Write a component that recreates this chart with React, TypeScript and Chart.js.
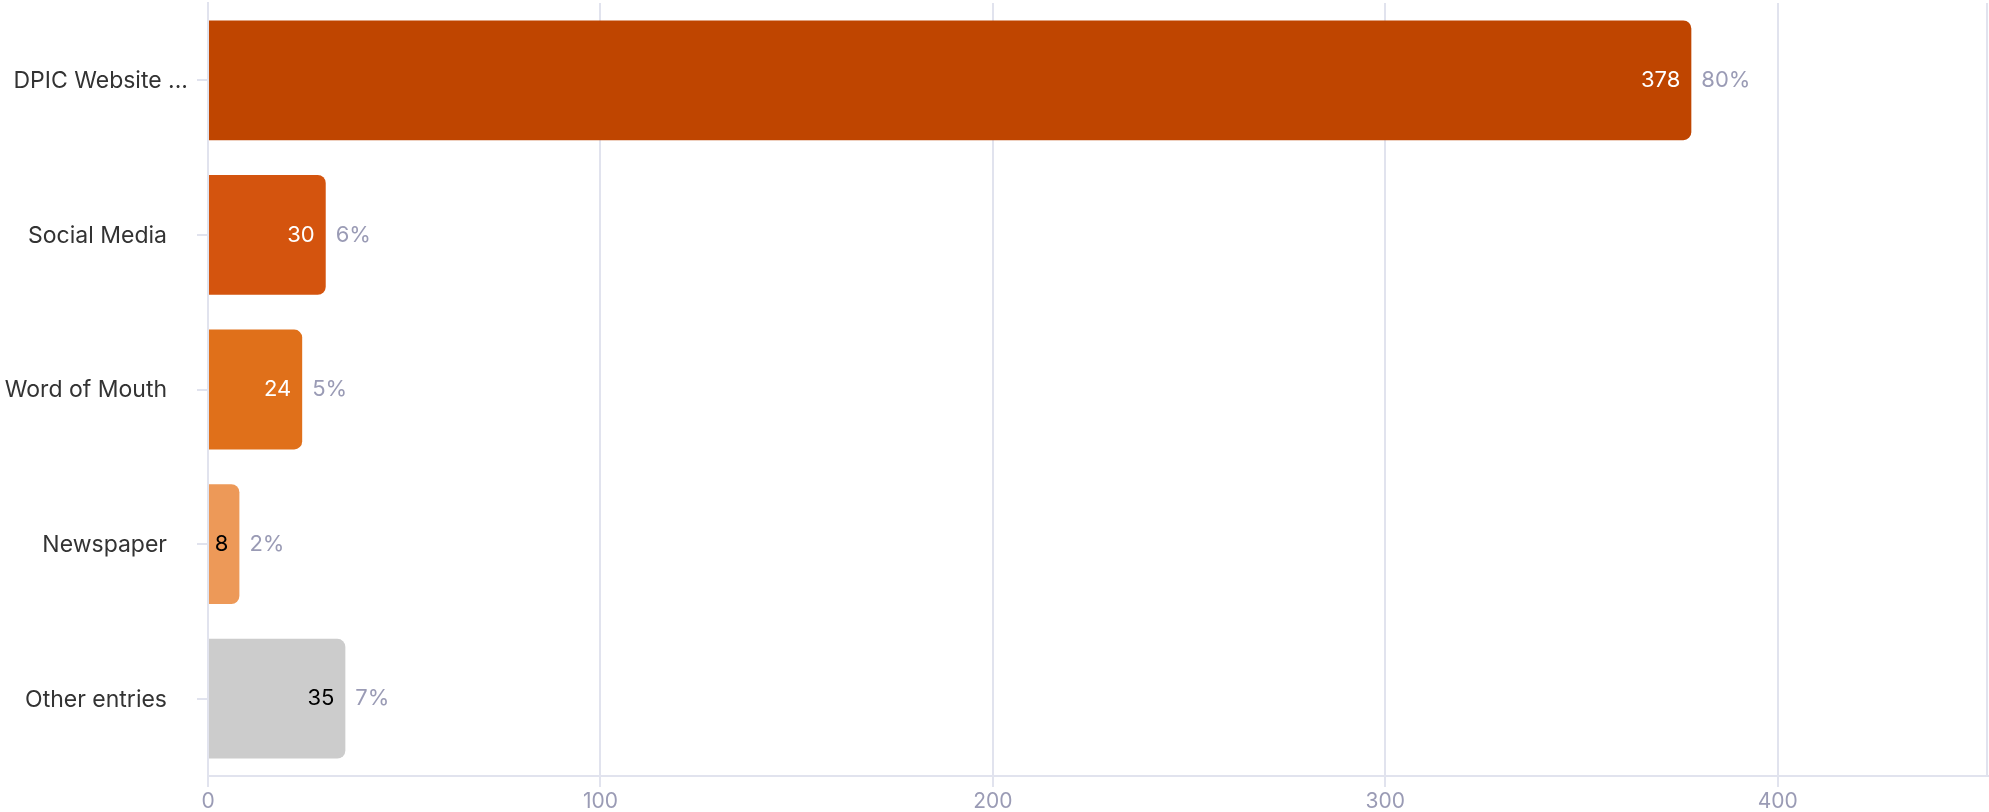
import React, { useEffect, useRef } from "react";
import { Chart, registerables } from "chart.js";

Chart.register(...registerables);

const categories = ["DPIC Website ...", "Social Media", "Word of Mouth", "Newspaper", "Other entries"];
const counts = [378, 30, 24, 8, 35];
const percentLabels = ["80%", "6%", "5%", "2%", "7%"];
const barColors = ["#BF4500", "#D4540E", "#E0701A", "#ED9958", "#CCCCCC"];
const valueLabelColors = ["#FFFFFF", "#FFFFFF", "#FFFFFF", "#000000", "#000000"];
const xTicks = [0, 100, 200, 300, 400];

const FONT = "Inter, 'Noto Sans', sans-serif";
const GRID = "#E1E3EE";
const CAT_LABEL_GAP = 41; // distance from y axis line to the label's right edge
const TRUNCATED_SHIFT = 21; // truncated labels sit closer to the axis in the original

const labelPlugin = {
  id: "barLabels",
  afterDatasetsDraw(chart: any) {
    const ctx = chart.ctx;
    const meta = chart.getDatasetMeta(0);
    ctx.save();
    ctx.font = `22px ${FONT}`;
    ctx.textBaseline = "middle";
    meta.data.forEach((bar: any, i: number) => {
      ctx.fillStyle = valueLabelColors[i];
      ctx.textAlign = "right";
      ctx.fillText(String(counts[i]), bar.x - 11, bar.y);
      ctx.fillStyle = "#9A9BB5";
      ctx.textAlign = "left";
      ctx.fillText(percentLabels[i], bar.x + 10, bar.y);
    });
    // category labels
    const yScale = chart.scales.y;
    ctx.font = `23px ${FONT}`;
    ctx.fillStyle = "#333333";
    ctx.textAlign = "right";
    categories.forEach((c, i) => {
      const y = yScale.getPixelForValue(i);
      const shift = c.endsWith("...") ? TRUNCATED_SHIFT : 0;
      ctx.fillText(c, yScale.right - CAT_LABEL_GAP + shift, y + 1);
    });
    ctx.restore();
  },
  beforeDatasetsDraw(chart: any) {
    const { ctx, chartArea } = chart;
    ctx.save();
    ctx.strokeStyle = GRID;
    ctx.lineWidth = 2;
    ctx.beginPath();
    ctx.moveTo(chartArea.right - 1, chartArea.top);
    ctx.lineTo(chartArea.right - 1, chartArea.bottom);
    ctx.stroke();
    ctx.restore();
  },
};

export default function App() {
  const ref = useRef<HTMLCanvasElement>(null);
  useEffect(() => {
    document.body.style.margin = "0";
    const chart = new Chart(ref.current!, {
      type: "bar",
      data: {
        labels: categories,
        datasets: [
          {
            data: counts,
            backgroundColor: barColors,
            borderRadius: 8,
            borderSkipped: "start",
            categoryPercentage: 1,
            barPercentage: 0.775,
          },
        ],
      },
      options: {
        indexAxis: "y",
        responsive: false,
        animation: false,
        layout: { padding: { top: 3, right: 1 } },
        plugins: { legend: { display: false }, tooltip: { enabled: false } },
        scales: {
          x: {
            min: 0,
            max: Math.max(...counts) * 1.2,
            afterFit: (s: any) => {
              s.height = 36;
              s.paddingLeft = 0;
              s.paddingRight = 0;
            },
            afterBuildTicks: (s: any) => {
              s.ticks = xTicks.map((v) => ({ value: v }));
            },
            grid: { color: GRID, lineWidth: 2, tickLength: 11 },
            border: { color: GRID, width: 2 },
            ticks: {
              color: "#9A9BB5",
              font: { family: FONT, size: 21 },
              padding: 2,
            },
          },
          y: {
            afterFit: (s: any) => {
              s.width = 208;
              s.paddingTop = 0;
              s.paddingBottom = 0;
            },
            grid: { color: GRID, lineWidth: 2, tickLength: 11, drawOnChartArea: false, offset: false },
            border: { color: GRID, width: 2 },
            ticks: { display: false },
          },
        },
      },
      plugins: [labelPlugin],
    });
    return () => chart.destroy();
  }, []);
  return <canvas ref={ref} width={1989} height={812} style={{ display: "block" }} />;
}
